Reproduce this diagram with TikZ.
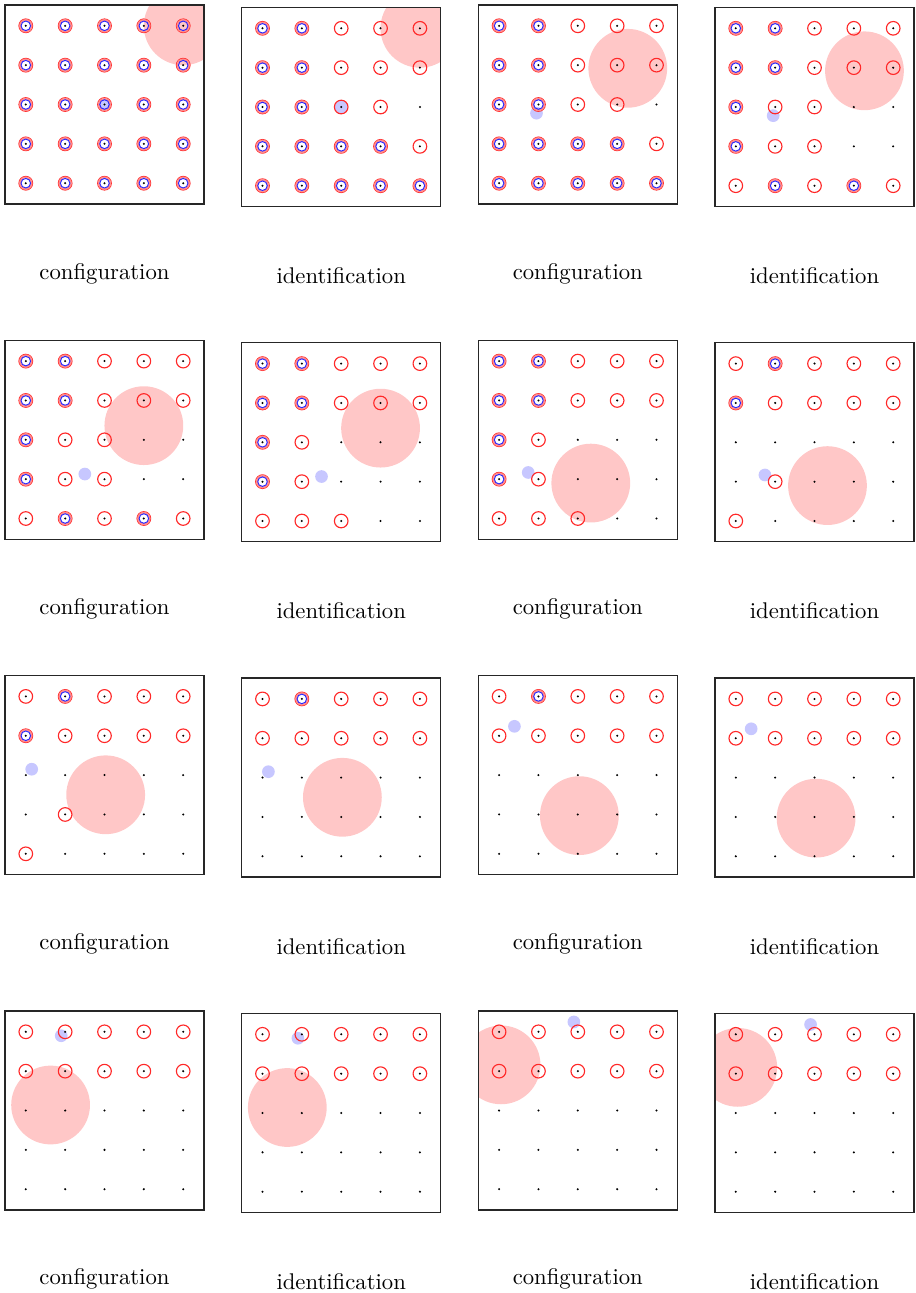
\documentclass[tikz,border=0pt]{standalone}
\usepackage{tikz}
\definecolor{pinkdisk}{RGB}{255,199,199}
\definecolor{bluedisk}{RGB}{199,199,255}
\definecolor{ringred}{RGB}{255,40,40}
\definecolor{ringblue}{RGB}{40,40,255}
\tikzset{
  frame/.style={draw=black!85, line width=0.55pt},
  sitedot/.style={fill=black},
  redring/.style={draw=ringred, line width=0.5pt},
  redhalo/.style={draw=red!45, line width=0.8pt},
  bluering/.style={draw=ringblue, line width=0.42pt},
  lbl/.style={anchor=base, inner sep=0pt},
}
\def\listA{2,2,2,2,2,2,2,2,2,2,2,2,2,2,2,2,2,2,2,2,2,2,2,2,2}
\def\listB{2,2,1,1,1,2,2,1,1,1,2,2,1,1,0,2,2,2,2,1,2,2,2,2,2}
\def\listC{2,2,1,1,1,2,2,1,1,1,2,1,1,0,0,2,1,1,0,0,1,2,1,2,1}
\def\listD{2,2,1,1,1,2,2,1,1,1,2,1,0,0,0,2,1,0,0,0,1,1,1,0,0}
\def\listE{1,2,1,1,1,2,1,1,1,1,0,0,0,0,0,0,1,0,0,0,1,0,0,0,0}
\def\listF{1,2,1,1,1,1,1,1,1,1,0,0,0,0,0,0,0,0,0,0,0,0,0,0,0}
\def\listG{1,1,1,1,1,1,1,1,1,1,0,0,0,0,0,0,0,0,0,0,0,0,0,0,0}
% #1 xoff, #2 yoff, #3 pink x, #4 pink row (from top), #5 blue x, #6 blue row, #7 list
\newcommand\panelgrid[7]{%
 \begin{scope}[shift={(#1,#2)}]
  \begin{scope}
   \clip (0,0) rectangle (199,199);
   \fill[pinkdisk] ({20.8+39.35*#3},{20.8+39.35*#4}) circle[radius=17.35pt];
   \fill[bluedisk] ({20.8+39.35*#5},{20.8+39.35*#6}) circle[radius=2.8pt];
  \end{scope}
  \foreach \v [count=\k from 0] in #7 {
    \pgfmathtruncatemacro\cc{mod(\k,5)}
    \pgfmathtruncatemacro\rr{div(\k,5)}
    \coordinate (s) at ({20.8+39.35*\cc},{20.8+39.35*\rr});
    \ifnum\v>0\relax \draw[redring] (s) circle[radius=3.0pt]; \fi
    \ifnum\v>1\relax \draw[redhalo] (s) circle[radius=2.55pt]; \draw[bluering] (s) circle[radius=2.1pt]; \fi
    \fill[sitedot] (s) circle[radius=0.5pt];
  }
  \draw[frame] (0,0) rectangle (199,199);
 \end{scope}}
\begin{document}
\begin{tikzpicture}[x=0.4405pt,y=-0.4405pt]
\useasboundingbox (0,0) rectangle (915,1293);
% row 1
\panelgrid{5}{5}{4}{0}{2}{2}{\listA}
\panelgrid{241.7}{7.5}{4}{0}{2}{2}{\listB}
\panelgrid{478.3}{5}{3.27}{1.08}{0.95}{2.22}{\listB}
\panelgrid{715}{7.5}{3.27}{1.08}{0.95}{2.22}{\listC}
% row 2
\panelgrid{5}{340.3}{3}{1.64}{1.5}{2.87}{\listC}
\panelgrid{241.7}{342.8}{3}{1.64}{1.5}{2.87}{\listD}
\panelgrid{478.3}{340.3}{2.33}{3.1}{0.74}{2.83}{\listD}
\panelgrid{715}{342.8}{2.33}{3.1}{0.74}{2.83}{\listE}
% row 3
\panelgrid{5}{675.6}{2.03}{2.5}{0.15}{1.85}{\listE}
\panelgrid{241.7}{678.1}{2.03}{2.5}{0.15}{1.85}{\listF}
\panelgrid{478.3}{675.6}{2.04}{3.03}{0.39}{0.76}{\listF}
\panelgrid{715}{678.1}{2.04}{3.03}{0.39}{0.76}{\listG}
% row 4
\panelgrid{5}{1011}{0.63}{1.86}{0.9}{0.1}{\listG}
\panelgrid{241.7}{1013.5}{0.63}{1.86}{0.9}{0.1}{\listG}
\panelgrid{478.3}{1011}{0.05}{0.84}{1.9}{-0.25}{\listG}
\panelgrid{715}{1013.5}{0.05}{0.84}{1.9}{-0.25}{\listG}
% labels
\node[lbl] (l1) at (104.5,279) {configuration};
\node[lbl] (l2) at (341.2,283.5) {identification};
\node[lbl] (l3) at (577.8,279) {configuration};
\node[lbl] (l4) at (814.5,283.5) {identification};
\node[lbl] (l5) at (104.5,614.3) {configuration};
\node[lbl] (l6) at (341.2,618.8) {identification};
\node[lbl] (l7) at (577.8,614.3) {configuration};
\node[lbl] (l8) at (814.5,618.8) {identification};
\node[lbl] (l9) at (104.5,949.6) {configuration};
\node[lbl] (l10) at (341.2,954.1) {identification};
\node[lbl] (l11) at (577.8,949.6) {configuration};
\node[lbl] (l12) at (814.5,954.1) {identification};
\node[lbl] (l13) at (104.5,1284.9) {configuration};
\node[lbl] (l14) at (341.2,1289.4) {identification};
\node[lbl] (l15) at (577.8,1284.9) {configuration};
\node[lbl] (l16) at (814.5,1289.4) {identification};
\end{tikzpicture}
\end{document}
